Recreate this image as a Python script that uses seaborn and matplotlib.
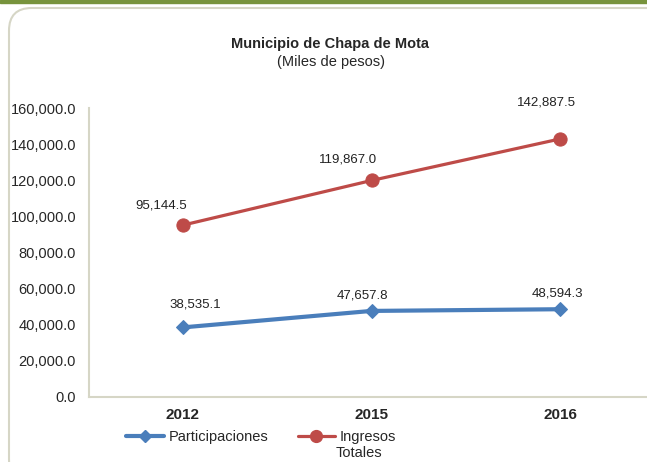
import matplotlib
matplotlib.use("Agg")
import matplotlib.pyplot as plt
import seaborn as sns
import pandas as pd
from matplotlib.patches import FancyBboxPatch, Rectangle
from matplotlib.lines import Line2D

# Datos (miles de pesos)
anios = ["2012", "2015", "2016"]
participaciones = [38535.1, 47657.8, 48594.3]
ingresos_totales = [95144.5, 119867.0, 142887.5]
y_ticks = [0, 20000, 40000, 60000, 80000, 100000, 120000, 140000, 160000]

azul = "#4A7EBB"
rojo = "#BE4B48"
gris = "#D6D6C6"

sns.set_style("white")
plt.rcParams["font.family"] = ["Liberation Sans", "DejaVu Sans"]

df = pd.DataFrame({"anio": anios, "part": participaciones, "ing": ingresos_totales})

W, H = 647, 462
fig = plt.figure(figsize=(W / 100, H / 100), dpi=100)

# franja verde superior y marco redondeado
fig.patches.append(Rectangle((0, 1 - 3 / H), 1, 3 / H, transform=fig.transFigure,
                             color="#77933C", zorder=0))
fig.patches.append(FancyBboxPatch((9 / W, -20 / H), 700 / W, (H - 8 + 20) / H,
                                  boxstyle="round,pad=0,rounding_size=0.035",
                                  transform=fig.transFigure, fill=False,
                                  edgecolor=gris, linewidth=1.5, zorder=0,
                                  mutation_aspect=W / H))

ax = fig.add_axes([88.5 / W, 1 - 397 / H, 566 / W, 289 / H])

sns.lineplot(data=df, x="anio", y="part", ax=ax, color=azul, linewidth=3,
             marker="D", markersize=7.5, markeredgecolor=azul)
sns.lineplot(data=df, x="anio", y="ing", ax=ax, color=rojo, linewidth=2.3,
             marker="o", markersize=9.5, markeredgecolor=rojo)

# etiquetas de datos (desplazamientos en pixeles)
offs_part = [(12, 23), (-9, 15), (-3, 16)]
offs_ing = [(-22, 20), (-23, 21), (-14, 36)]
for i, a in enumerate(anios):
    ax.annotate(f"{participaciones[i]:,.1f}", (i, participaciones[i]),
                xytext=offs_part[i], textcoords="offset pixels",
                ha="center", va="center", fontsize=9.5, color="#222222")
    ax.annotate(f"{ingresos_totales[i]:,.1f}", (i, ingresos_totales[i]),
                xytext=offs_ing[i], textcoords="offset pixels",
                ha="center", va="center", fontsize=9.5, color="#222222")

ax.set_xlim(-0.5, 2.5)
ax.set_ylim(0, 160000)
ax.set_yticks(y_ticks)
ax.set_yticklabels([f"{v:,.1f}" for v in y_ticks], fontsize=10.5)
ax.set_xticks(range(len(anios)))
ax.set_xticklabels(anios, fontsize=11, fontweight="bold")
ax.set_xticks([-0.5, 0.5, 1.5, 2.5], minor=True)
ax.tick_params(axis="x", which="major", length=0, pad=8)
ax.tick_params(axis="x", which="minor", length=5, width=1.5, color=gris, direction="out")
ax.tick_params(axis="y", length=5, width=1.5, color=gris, direction="out", pad=4)
ax.set_xlabel("")
ax.set_ylabel("")
for s in ["top", "right"]:
    ax.spines[s].set_visible(False)
for s in ["left", "bottom"]:
    ax.spines[s].set_color(gris)
    ax.spines[s].set_linewidth(1.5)

fig.text(330 / W, 1 - 44 / H, "Municipio de Chapa de Mota", ha="center", va="center",
         fontsize=10.5, fontweight="bold")
fig.text(331 / W, 1 - 62 / H, "(Miles de pesos)", ha="center", va="center", fontsize=10.5)

handles = [Line2D([], [], color=azul, lw=3, marker="D", ms=6),
           Line2D([], [], color=rojo, lw=2.3, marker="o", ms=8.5)]
leg = fig.legend(handles, ["Participaciones", "Ingresos"], loc="center left",
                 bbox_to_anchor=(119 / W, 1 - 437 / H), ncol=2, frameon=False,
                 fontsize=10.5, borderpad=0, handlelength=2.6, handletextpad=0.3,
                 columnspacing=2.0)
# segunda linea de la etiqueta "Ingresos Totales"
fig.text(336 / W, 1 - 453 / H, "Totales", ha="left", va="center", fontsize=10.5)

fig.savefig("out.png", dpi=100)
